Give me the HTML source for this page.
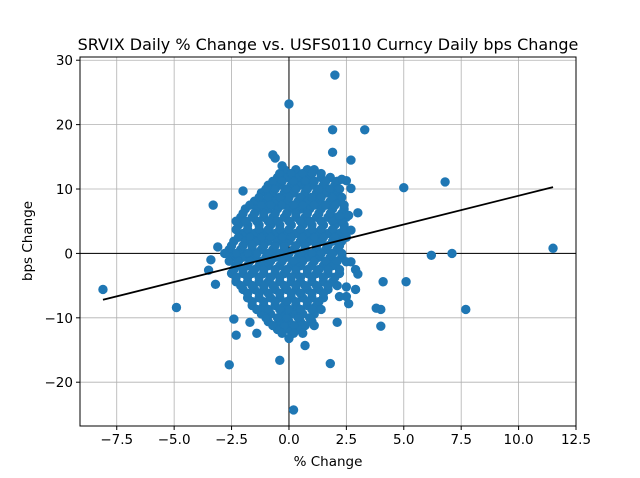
<!DOCTYPE html>
<html><head><meta charset="utf-8"><style>
body{margin:0;background:#fff}
svg{display:block;font-family:"DejaVu Sans","Liberation Sans",sans-serif}
</style></head><body>
<svg id="chart" width="640" height="478" viewBox="0 0 640 478" xmlns="http://www.w3.org/2000/svg">
<rect width="640" height="478" fill="#fff"/>
<text x="328" y="50" text-anchor="middle" font-size="16" fill="#000">SRVIX Daily % Change vs. USFS0110 Curncy Daily bps Change</text>
<text x="328" y="466" text-anchor="middle" font-size="13.5">% Change</text>
<text transform="translate(32,241) rotate(-90)" text-anchor="middle" font-size="13.5">bps Change</text>
<g id="grid"></g><g id="zero"></g><g id="pts"></g><g id="fit"></g><g id="ticks"></g>
<rect x="80" y="57" width="496" height="369" fill="none" stroke="#000" stroke-width="1"/>
</svg>
<script>
const xTicks=[-7.5,-5.0,-2.5,0.0,2.5,5.0,7.5,10.0,12.5];
const xTickLabels=["−7.5","−5.0","−2.5","0.0","2.5","5.0","7.5","10.0","12.5"];
const yTicks=[-20,-10,0,10,20,30];
const yTickLabels=["−20","−10","0","10","20","30"];
const outX=[11.5,7.7,7.1,6.2,6.8,5.0,5.1,4.1,4.0,4.0,3.8,-8.1,-4.9,-3.3,-3.1,-3.2,-3.5,-3.4,-2.6,2.0,0.0,1.9,3.3,0.2,-0.4,1.8,2.7,1.9,-0.7,-0.6,-0.3,3.0,2.9,3.0,2.9,2.6,2.1,-2.3,-2.4,-1.7,-1.4,-2.0,2.7,2.5,2.3,0.7,0.0,2.5,2.5,2.2,2.7,2.7,2.5,2.6,2.2];
const outY=[0.8,-8.7,0,-0.3,11.1,10.2,-4.4,-4.4,-8.7,-11.3,-8.5,-5.6,-8.4,7.5,1.0,-4.8,-2.6,-1.0,-17.3,27.7,23.2,19.2,19.2,-24.3,-16.6,-17.1,14.5,15.7,15.3,14.8,13.6,6.3,-2.5,-3.2,-5.6,-7.8,-10.7,-12.7,-10.2,-10.7,-12.4,9.7,10.1,11.3,11.5,-14.3,-13.2,-5.2,-6.7,-6.7,3.6,-1.3,-1.3,5.9,5.8];
const blobRowY=[13,11.8,10.6,9.4,8.1,6.9,5.6,4.4,3.1,1.9,0.6,-0.6,-1.9,-3.1,-4.4,-5.6,-6.9,-8.1,-9.4,-10.6,-11.8];
const blobRowX=[
[-0.2,0.3,0.8,1.1],
[-0.5,-0.1,0.4,0.9,1.4,1.8],
[-0.9,-0.4,0.1,0.5,1.0,1.5,2.0],
[-1.2,-0.7,-0.2,0.2,0.7,1.2,1.6,2.1],
[-1.5,-1.0,-0.6,-0.1,0.4,0.8,1.3,1.8,2.2],
[-1.9,-1.4,-0.9,-0.5,0,0.5,0.9,1.4,1.9,2.4],
[-2.1,-1.6,-1.1,-0.7,-0.2,0.3,0.7,1.2,1.7,2.1,2.5],
[-2.2,-1.8,-1.3,-0.8,-0.4,0.1,0.6,1.0,1.5,2.0,2.4],
[-2.0,-1.5,-1.1,-0.6,-0.1,0.3,0.8,1.3,1.7,2.2],
[-2.4,-1.9,-1.4,-0.9,-0.5,0,0.5,0.9,1.4,1.9,2.3],
[-2.6,-2.1,-1.6,-1.2,-0.7,-0.2,0.2,0.7,1.2,1.6,2.1],
[-2.5,-2.0,-1.5,-1.0,-0.6,-0.1,0.4,0.8,1.3,1.8,2.3],
[-2.3,-1.8,-1.3,-0.9,-0.4,0.1,0.5,1.0,1.5,1.9],
[-2.5,-2.0,-1.6,-1.1,-0.6,-0.2,0.3,0.8,1.2,1.7,2.2],
[-2.3,-1.8,-1.3,-0.9,-0.4,0.1,0.5,1.0,1.5,1.9],
[-2.0,-1.5,-1.1,-0.6,-0.1,0.3,0.8,1.3,1.7],
[-1.8,-1.3,-0.8,-0.4,0.1,0.6,1.0,1.5],
[-1.6,-1.1,-0.6,-0.2,0.3,0.8,1.2],
[-1.2,-0.8,-0.3,0.2,0.6,1.1],
[-0.9,-0.4,0,0.5,1.0],
[-0.5,0,0.4]];
const blob2RowY=[12.4,11.2,10.0,8.7,7.5,6.2,5.0,3.7,2.5,1.2,0.0,-1.2,-2.5,-3.7,-5.0,-6.2,-7.5,-8.7,-10.0,-11.2,-12.4];
const blob2RowX=[
[-0.4,0.1,0.6,1.0,1.4],
[-0.7,-0.3,0.2,0.7,1.1,1.6,2.1],
[-1.0,-0.6,-0.1,0.3,0.8,1.3,1.8,2.2],
[-1.3,-0.9,-0.4,0.0,0.5,1.0,1.4,1.9,2.3],
[-1.7,-1.2,-0.8,-0.3,0.2,0.6,1.1,1.6,2.0,2.4],
[-2.0,-1.5,-1.1,-0.6,-0.1,0.3,0.8,1.3,1.8,2.3],
[-2.3,-1.9,-1.4,-0.9,-0.5,0.0,0.5,0.9,1.4,1.9,2.3],
[-2.3,-1.8,-1.3,-0.9,-0.4,0.0,0.5,1.0,1.4,1.9,2.4],
[-2.2,-1.7,-1.2,-0.8,-0.3,0.1,0.6,1.1,1.5,2.0,2.5],
[-2.5,-2.0,-1.6,-1.1,-0.6,-0.2,0.3,0.7,1.2,1.7,2.2],
[-2.8,-2.3,-1.8,-1.4,-0.9,-0.4,0.0,0.5,1.0,1.4,1.9,2.3],
[-2.6,-2.2,-1.7,-1.2,-0.8,-0.3,0.2,0.6,1.1,1.6,2.1],
[-2.4,-2.0,-1.5,-1.1,-0.6,-0.1,0.3,0.8,1.3,1.7,2.2],
[-2.3,-1.8,-1.3,-0.8,-0.4,0.1,0.5,1.0,1.5,2.0],
[-2.1,-1.6,-1.1,-0.7,-0.2,0.3,0.7,1.2,1.7,2.1],
[-1.8,-1.3,-0.9,-0.4,0.1,0.5,1.0,1.5],
[-1.6,-1.1,-0.6,-0.1,0.3,0.8,1.3],
[-1.4,-0.9,-0.4,0.0,0.5,1.0,1.4],
[-1.0,-0.5,-0.1,0.4,0.9],
[-0.7,-0.2,0.2,0.7,1.1],
[-0.3,0.2,0.6]];
const fitX=[-8.1,11.5];
const fitSlope=0.893, fitIntercept=0.03;

const NS="http://www.w3.org/2000/svg";
const L=80,R=576,T=57,B=426,xMin=-9.1,xMax=12.5,yMin=-26.8,yMax=30.5;
const sx=v=>L+(v-xMin)/(xMax-xMin)*(R-L);
const sy=v=>B-(v-yMin)/(yMax-yMin)*(B-T);
function mk(tag,attrs,parent){const e=document.createElementNS(NS,tag);for(const k in attrs)e.setAttribute(k,attrs[k]);parent.appendChild(e);return e;}
const grid=document.getElementById('grid'),ticks=document.getElementById('ticks');
xTicks.forEach((v,i)=>{const x=sx(v);
 const g=mk('line',{x1:x,x2:x,y1:T,y2:B,stroke:'#b0b0b0','stroke-width':0.8},grid);
 
 
 mk('line',{x1:x,x2:x,y1:B,y2:B+4,stroke:'#000'},ticks);
 const t=mk('text',{x:x,y:B+18,'text-anchor':'middle','font-size':13.5},ticks);t.textContent=xTickLabels[i];
 
 });
yTicks.forEach((v,i)=>{const y=sy(v);
 const g=mk('line',{x1:L,x2:R,y1:y,y2:y,stroke:'#b0b0b0','stroke-width':0.8},grid);
 
 
 mk('line',{x1:L-4,x2:L,y1:y,y2:y,stroke:'#000'},ticks);
 const t=mk('text',{x:L-7,y:y+5,'text-anchor':'end','font-size':13.5},ticks);t.textContent=yTickLabels[i];
 
 });
const zero=document.getElementById('zero');
const zh=mk('line',{x1:L,x2:R,y1:sy(0),y2:sy(0),stroke:'#000','stroke-width':1},zero);


const zv=mk('line',{x1:sx(0),x2:sx(0),y1:T,y2:B,stroke:'#000','stroke-width':1},zero);


const pts=document.getElementById('pts');
function dot(x,y){const c=mk('circle',{cx:sx(x),cy:sy(y),r:4.2,fill:'#1f77b4',stroke:'#1f77b4','stroke-width':1},pts);
 
 }
blobRowY.forEach((y,i)=>blobRowX[i].forEach(x=>dot(x,y)));
blob2RowY.forEach((y,i)=>blob2RowX[i].forEach(x=>dot(x,y)));
outX.forEach((x,i)=>dot(x,outY[i]));
const fit=mk('line',{x1:sx(fitX[0]),y1:sy(fitSlope*fitX[0]+fitIntercept),x2:sx(fitX[1]),y2:sy(fitSlope*fitX[1]+fitIntercept),stroke:'#000','stroke-width':1.8},document.getElementById('fit'));


</script>
</body></html>
